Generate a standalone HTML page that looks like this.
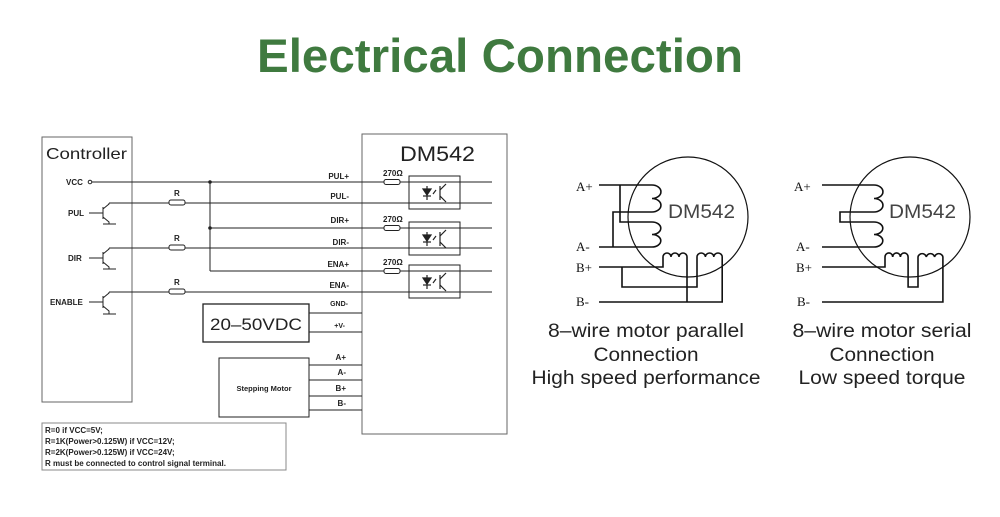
<!DOCTYPE html>
<html><head><meta charset="utf-8"><style>
html,body{margin:0;padding:0;background:#fff;}
svg{display:block;}
.s{font-family:"Liberation Sans",Arial,sans-serif;}
.r{font-family:"Liberation Serif",serif;}
</style></head><body>
<svg width="1000" height="517" viewBox="0 0 1000 517" xmlns="http://www.w3.org/2000/svg">
<text class="s" x="500" y="72" text-anchor="middle" font-size="47" font-weight="bold" fill="#3f7a3f" textLength="486" lengthAdjust="spacingAndGlyphs">Electrical Connection</text>

<g stroke="#222" stroke-width="1" fill="none">
  <rect x="42" y="137" width="90" height="265" stroke="#666"/>
  <rect x="362" y="134" width="145" height="300" stroke="#666"/>
  <line x1="92" y1="182" x2="492" y2="182"/>
  <line x1="109" y1="203" x2="492" y2="203"/>
  <line x1="210" y1="228" x2="492" y2="228"/>
  <line x1="109" y1="248" x2="492" y2="248"/>
  <line x1="210" y1="271" x2="492" y2="271"/>
  <line x1="109" y1="292" x2="492" y2="292"/>
  <line x1="210" y1="182" x2="210" y2="271"/>
  <rect x="203" y="304" width="106" height="38" stroke-width="1.3"/>
  <line x1="309" y1="313" x2="362" y2="313"/>
  <line x1="309" y1="332" x2="362" y2="332"/>
  <rect x="219" y="358" width="90" height="59"/>
  <line x1="309" y1="365" x2="362" y2="365"/>
  <line x1="309" y1="380" x2="362" y2="380"/>
  <line x1="309" y1="396" x2="362" y2="396"/>
  <line x1="309" y1="410" x2="362" y2="410"/>
  <rect x="42" y="423" width="244" height="47" stroke="#888"/>
  <rect x="409" y="176" width="51" height="33"/>
  <rect x="409" y="222" width="51" height="33"/>
  <rect x="409" y="265" width="51" height="33"/>
  <g>
    <path d="M89 213 H103 M103 207 V219 M103 209 L109 204 V203 M103 217 L109 222 V224 M103 224 H116"/>
    <path d="M89 258 H103 M103 252 V264 M103 254 L109 249 V248 M103 262 L109 267 V269 M103 269 H116"/>
    <path d="M89 302 H103 M103 296 V308 M103 298 L109 293 V292 M103 306 L109 311 V314 M103 314 H116"/>
  </g>
</g>
<g fill="#fff" stroke="#222" stroke-width="1">
  <rect x="169" y="200" width="16" height="5" rx="2"/>
  <rect x="169" y="245" width="16" height="5" rx="2"/>
  <rect x="169" y="289" width="16" height="5" rx="2"/>
  <rect x="384" y="179.5" width="16" height="5" rx="2"/>
  <rect x="384" y="225.5" width="16" height="5" rx="2"/>
  <rect x="384" y="268.5" width="16" height="5" rx="2"/>
</g>
<circle cx="90" cy="182" r="1.8" fill="#fff" stroke="#222"/>
<circle cx="210" cy="182" r="1.8" fill="#222"/>
<circle cx="210" cy="228" r="1.8" fill="#222"/>
<g stroke="#222" stroke-width="1.2" fill="#222">
  <g id="o1"><path d="M423 189 h8 l-4 6 z"/><line x1="423" y1="196" x2="431" y2="196"/><line x1="427" y1="186" x2="427" y2="200"/><line x1="433" y1="194" x2="436" y2="190"/><line x1="440" y1="186" x2="440" y2="200"/><line x1="440" y1="190" x2="446" y2="184"/><line x1="440" y1="196" x2="446" y2="202"/></g>
  <use href="#o1" y="46"/>
  <use href="#o1" y="89"/>
</g>
<g class="s" font-size="8" font-weight="bold" fill="#222">
  <text x="66" y="185">VCC</text>
  <text x="68" y="216">PUL</text>
  <text x="68" y="261">DIR</text>
  <text x="50" y="305">ENABLE</text>
  <text x="174" y="196">R</text>
  <text x="174" y="241">R</text>
  <text x="174" y="285">R</text>
  <text x="383" y="176">270Ω</text>
  <text x="383" y="222">270Ω</text>
  <text x="383" y="265">270Ω</text>
  <text x="349" y="179" text-anchor="end">PUL+</text>
  <text x="349" y="199" text-anchor="end">PUL-</text>
  <text x="349" y="223" text-anchor="end">DIR+</text>
  <text x="349" y="245" text-anchor="end">DIR-</text>
  <text x="349" y="267" text-anchor="end">ENA+</text>
  <text x="349" y="288" text-anchor="end">ENA-</text>
  <text x="348" y="306" text-anchor="end" font-size="7">GND-</text>
  <text x="345" y="328" text-anchor="end" font-size="7">+V-</text>
  <text x="346" y="360" text-anchor="end">A+</text>
  <text x="346" y="375" text-anchor="end">A-</text>
  <text x="346" y="391" text-anchor="end">B+</text>
  <text x="346" y="406" text-anchor="end">B-</text>
  <text x="264" y="391" text-anchor="middle" font-size="7.5">Stepping Motor</text>
  <text x="45" y="433">R=0 if VCC=5V;</text>
  <text x="45" y="444">R=1K(Power&gt;0.125W) if VCC=12V;</text>
  <text x="45" y="455">R=2K(Power&gt;0.125W) if VCC=24V;</text>
  <text x="45" y="466">R must be connected to control signal terminal.</text>
</g>
<text class="s" x="46" y="159" font-size="16" fill="#222" textLength="81" lengthAdjust="spacingAndGlyphs">Controller</text>
<text class="s" x="400" y="161" font-size="21" fill="#222" textLength="75" lengthAdjust="spacingAndGlyphs">DM542</text>
<text class="s" x="210" y="330" font-size="17" fill="#222" textLength="92" lengthAdjust="spacingAndGlyphs">20–50VDC</text>

<g stroke="#111" stroke-width="1.6" fill="none">
  <circle cx="688" cy="217" r="60" stroke-width="1.2"/>
  <path d="M599 185 H652 a4.5 3.4 0 0 1 0 13.5 a4.5 3.4 0 0 1 0 13.5 H613 V247"/>
  <path d="M620 185 V222 H652 a4.5 3.2 0 0 1 0 12.5 a4.5 3.2 0 0 1 0 12.5 H599"/>
  <path d="M599 267 H663 V257 a4 4 0 0 1 8 0 a4 4 0 0 1 8 0 a4 4 0 0 1 8 0 V302"/>
  <path d="M622 267 V287 H697 V257 a4.2 4 0 0 1 8.4 0 a4.2 4 0 0 1 8.4 0 a4.2 4 0 0 1 8.4 0 V302 H599"/>
  <circle cx="910" cy="217" r="60" stroke-width="1.2"/>
  <path d="M822 185 H874 a4.5 3.4 0 0 1 0 13.5 a4.5 3.4 0 0 1 0 13.5 H840 V222 H874 a4.5 3.2 0 0 1 0 12.5 a4.5 3.2 0 0 1 0 12.5 H822"/>
  <path d="M822 267 H885 V257 a3.8 4 0 0 1 7.7 0 a3.8 4 0 0 1 7.7 0 a3.8 4 0 0 1 7.7 0 V287 H918 V257 a4.2 4 0 0 1 8.3 0 a4.2 4 0 0 1 8.3 0 a4.2 4 0 0 1 8.3 0 V302 H822"/>
</g>
<g class="r" font-size="13" fill="#111">
  <text x="576" y="191">A+</text><text x="576" y="251">A-</text><text x="576" y="272">B+</text><text x="576" y="306">B-</text>
  <text x="794" y="191">A+</text><text x="796" y="251">A-</text><text x="796" y="272">B+</text><text x="797" y="306">B-</text>
</g>
<text class="s" x="668" y="218" font-size="19" fill="#444" textLength="67" lengthAdjust="spacingAndGlyphs">DM542</text>
<text class="s" x="889" y="218" font-size="19" fill="#444" textLength="67" lengthAdjust="spacingAndGlyphs">DM542</text>
<g class="s" font-size="19" fill="#222" text-anchor="middle">
  <text x="646" y="337" textLength="196" lengthAdjust="spacingAndGlyphs">8–wire motor parallel</text>
  <text x="646" y="361" textLength="105" lengthAdjust="spacingAndGlyphs">Connection</text>
  <text x="646" y="384" textLength="229" lengthAdjust="spacingAndGlyphs">High speed performance</text>
  <text x="882" y="337" textLength="179" lengthAdjust="spacingAndGlyphs">8–wire motor serial</text>
  <text x="882" y="361" textLength="105" lengthAdjust="spacingAndGlyphs">Connection</text>
  <text x="882" y="384" textLength="167" lengthAdjust="spacingAndGlyphs">Low speed torque</text>
</g>
</svg>
</body></html>
